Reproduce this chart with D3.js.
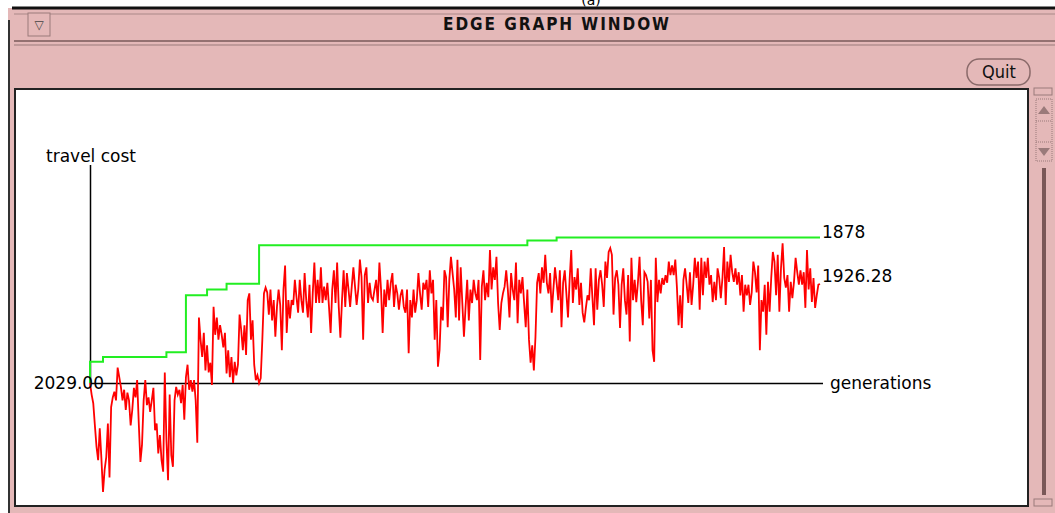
<!DOCTYPE html>
<html>
<head>
<meta charset="utf-8">
<script src="https://cdn.jsdelivr.net/npm/d3@7"></script>
<style>
  body { margin: 0; background: #ffffff; }
  text { font-family: "DejaVu Sans", sans-serif; }
</style>
</head>
<body>
<div id="win"></div>
<script>
// best-so-far travel cost (step line), generation where it changed
var bestGen  = [0, 0, 8, 47, 59, 72, 84, 104, 269, 287, 449];
var bestCost = [2029, 2007, 2002, 1997, 1938, 1932, 1926, 1886, 1881, 1878, 1878];

// travel cost of each generation
var costA = [2029,2041,2050,2073,2095,2109,2076,2107,2142,2119,2106,2071,2127,2054,2044,2038,
  2047,2013,2023,2033,2047,2036,2057,2039,2047,2073,2057,2034,2044,2026,2071,2111,2093,2047,
  2026,2052,2044,2059,2047,2034,2078,2071,2102,2083,2109,2121,2018,2088,2130,2041,2104,2116,
  2047,2033,2041,2036,2050,2031,2067,2023,2010,2036,2026,2038,2026,2047,2091,1961,1984,2002,
  1977,2016,1990,2018];
var costB = [2008,2031,1950,1979,1961,1984,1969,1979,1992,1977,2019,1995,2023,2002,2029,2007,
  2021,2010,1958,1974,1995,1969,2000,1943,1936,1984,1964,2010,2026,2021,2029,2024,1984,1936,
  1930,1935,1958,1932,1964,1943,1981,1950,1932,1948,1995,1932,1907,1977,1943,1962,1943,1948,
  1922,1940,1956,1922,1943,1956,1915,1943,1961,1927,1977,1936,1904,1946,1922,1946,1909,1946,
  1929,1943];
var costC = [1925,1950,1977,1932,1912,1946,1904,1950,1982,1943,1912,1950,1915,1932,1950,1929,
  1909,1929,1948,1932,1901,1919,1984,1917,1909,1946,1925,1940,1943,1932,1922,1946,1904,1932,
  1977,1932,1950,1922,1943,1925,1915,1950,1927,1936,1953,1938,1932,1950,1956,1932,1998,1943,
  1961,1932,1956,1943,1915,1936,1953,1925,1932,1922,1950,1912,1936,1922,1984,1943,2012,1995,
  1950,1964,1912,1919,1971,1922,1898,1915,1932,1961];
var costD = [1901,1964,1909,1946,1981,1950,1922,1964,1932,1946,1922,1936,1943,1922,2005,1929,
  1912,1943,1925,1940,1891,1932,1909,1922,1898,1946,1974,1946,1936,1929,1912,1932,1961,1915,
  1932,1943,1904,1967,1922,1936,1919,1946,1971,1932,1984,2008,1990,2016,1981,1925,1915,1936,
  1909,1925,1896,1925,1936,1915,1956,1932,1909,1925,1943,1912,1971,1925,1912,1936,1961,1922,
  1891,1946,1919,1932];
var costE = [1910,1948,1925,1956,1966,1951,1938,1943,1910,1940,1969,1910,1953,1922,1912,1927,
  1950,1903,1920,1893,1889,1896,1958,1920,1912,1927,1972,1927,1910,1943,1958,1917,1986,1899,
  1943,1922,1945,1925,1898,1943,1969,1914,1917,1924,1962,1922,1995,2007,1899,1945,1922,1936,
  1920,1927,1917,1925,1903,1917,1907,1917,1901,1930,1969,1938,1972,1922,1910,1927,1946,1914,
  1948,1927,1899,1920,1903,1953];
var costF = [1899,1938,1903,1920,1899,1927,1917,1945,1924,1943,1910,1920,1941,1920,1888,1948,
  1903,1924,1896,1914,1924,1910,1927,1914,1938,1917,1955,1927,1938,1927,1948,1935,1903,1914,
  1935,1907,1995,1943,1955,1927,1979,1924,1955,1920,1893,1903,1938,1896,1955,1910,1884,1920,
  1930,1917,1955,1924,1941,1924,1899,1914,1927,1912,1927,1914,1951,1891,1932,1910,1945,1920,
  1951,1938,1927,1926.28];
var cost = costA.concat(costB, costC, costD, costE, costF);

var yLabels = ["2029.00", "1878", "1926.28"];

var W = 1055, H = 513;
var pink = "rgb(228,184,184)";

var svg = d3.select("#win")
  .append("svg")
  .attr("width", W)
  .attr("height", H);

// ---- window frame ----
svg.append("rect").attr("x", 8).attr("y", 8).attr("width", W - 8).attr("height", H - 8)
  .style("fill", pink);
svg.append("line").attr("x1", 12).attr("x2", W).attr("y1", 8).attr("y2", 8)
  .style("stroke", "#111").style("stroke-width", 3);
svg.append("line").attr("x1", 9).attr("x2", 9).attr("y1", 20).attr("y2", H)
  .style("stroke", "#333").style("stroke-width", 2);
svg.append("line").attr("x1", 14).attr("x2", W).attr("y1", 14).attr("y2", 14)
  .style("stroke", "#a88").style("stroke-width", 1);
// "(a)" peeking in above the window (cut off in the original too)
svg.append("text").attr("x", 591).attr("y", 5).attr("text-anchor", "middle")
  .style("font-size", "14px").text("(a)");

// title bar
svg.append("rect").attr("x", 28).attr("y", 13).attr("width", 22).attr("height", 23)
  .style("fill", pink).style("stroke", "#9a7a7a").style("stroke-width", 1);
svg.append("text").attr("x", 39).attr("y", 29).attr("text-anchor", "middle")
  .style("font-size", "12px").style("fill", "#444").text("\u25BD");
svg.append("text")
  .attr("x", 443).attr("y", 30)
  .attr("textLength", 226).attr("lengthAdjust", "spacing")
  .style("font-family", "'DejaVu Sans Condensed', 'DejaVu Sans', sans-serif")
  .style("font-weight", "bold").style("font-size", "17px").style("fill", "#111")
  .text("EDGE GRAPH WINDOW");
svg.append("line").attr("x1", 14).attr("x2", W).attr("y1", 41).attr("y2", 41)
  .style("stroke", "#7a5a5a").style("stroke-width", 1.5);
svg.append("line").attr("x1", 14).attr("x2", W).attr("y1", 45).attr("y2", 45)
  .style("stroke", "#9a7a7a").style("stroke-width", 1);

// Quit button
svg.append("rect").attr("x", 967).attr("y", 59).attr("width", 63).attr("height", 26)
  .attr("rx", 12).attr("ry", 12)
  .style("fill", pink).style("stroke", "#8a6a6a").style("stroke-width", 1.5);
svg.append("text").attr("x", 999).attr("y", 78).attr("text-anchor", "middle")
  .style("font-family", "'DejaVu Sans Condensed', 'DejaVu Sans', sans-serif")
  .style("font-size", "18px").style("fill", "#111").text("Quit");

// plot canvas
svg.append("rect").attr("x", 15).attr("y", 89).attr("width", 1013).attr("height", 417)
  .style("fill", "#fff").style("stroke", "#222").style("stroke-width", 2);

// scrollbar
var sb = svg.append("g").attr("class", "scroll");
sb.append("rect").attr("x", 1034).attr("y", 88).attr("width", 18).attr("height", 7)
  .style("fill", pink).style("stroke", "#9a7a7a");
sb.append("rect").attr("x", 1036).attr("y", 99).attr("width", 16).attr("height", 62)
  .style("fill", "none").style("stroke", "#9a7a7a").style("stroke-dasharray", "1,1");
sb.append("line").attr("x1", 1036).attr("x2", 1052).attr("y1", 121).attr("y2", 121)
  .style("stroke", "#9a7a7a").style("stroke-dasharray", "1,1");
sb.append("line").attr("x1", 1036).attr("x2", 1052).attr("y1", 142).attr("y2", 142)
  .style("stroke", "#9a7a7a").style("stroke-dasharray", "1,1");
sb.append("path").attr("d", "M1038,114 L1044,106 L1050,114 Z").style("fill", "#9a7a7a");
sb.append("path").attr("d", "M1038,148 L1044,156 L1050,148 Z").style("fill", "#9a7a7a");
sb.append("rect").attr("x", 1042).attr("y", 168).attr("width", 4).attr("height", 327)
  .style("fill", "#7a5858");
sb.append("rect").attr("x", 1034).attr("y", 499).attr("width", 18).attr("height", 7)
  .style("fill", pink).style("stroke", "#9a7a7a");

// ---- chart ----
var x = d3.scaleLinear().domain([0, cost.length - 1]).range([90, 820]);
var y = d3.scaleLinear().domain([2029, 1878]).range([383, 237.5]);

var g = svg.append("g").attr("class", "chart");

// axes: plain lines with labels at the ends
g.append("line").attr("x1", 90.5).attr("x2", 90.5).attr("y1", 165).attr("y2", 383.5)
  .style("stroke", "#000").style("stroke-width", 1.5);
g.append("line").attr("x1", 90).attr("x2", 823).attr("y1", 383.5).attr("y2", 383.5)
  .style("stroke", "#000").style("stroke-width", 1.5);

g.append("text").attr("x", 46).attr("y", 162).style("font-size", "17px").text("travel cost");
g.append("text").attr("x", 830).attr("y", 389).style("font-size", "17px").text("generations");

var bestLine = d3.line()
  .x(function(d, i) { return x(bestGen[i]); })
  .y(function(d) { return y(d); })
  .curve(d3.curveStepAfter);
g.append("path").datum(bestCost)
  .attr("d", bestLine)
  .style("fill", "none").style("stroke", "#22ee22").style("stroke-width", 2);

var costLine = d3.line()
  .x(function(d, i) { return x(i); })
  .y(function(d) { return y(d); });
g.append("path").datum(cost)
  .attr("d", costLine)
  .style("fill", "none").style("stroke", "#ff0000").style("stroke-width", 1.8);

// value labels
g.append("text").attr("x", 104).attr("y", y(2029) + 6).attr("text-anchor", "end")
  .style("font-size", "17px").text(yLabels[0]);
g.append("text").attr("x", 822).attr("y", y(1878) + 0.5)
  .style("font-size", "17px").text(yLabels[1]);
g.append("text").attr("x", 822).attr("y", y(1926.28) - 2)
  .style("font-size", "17px").text(yLabels[2]);
</script>
</body>
</html>
